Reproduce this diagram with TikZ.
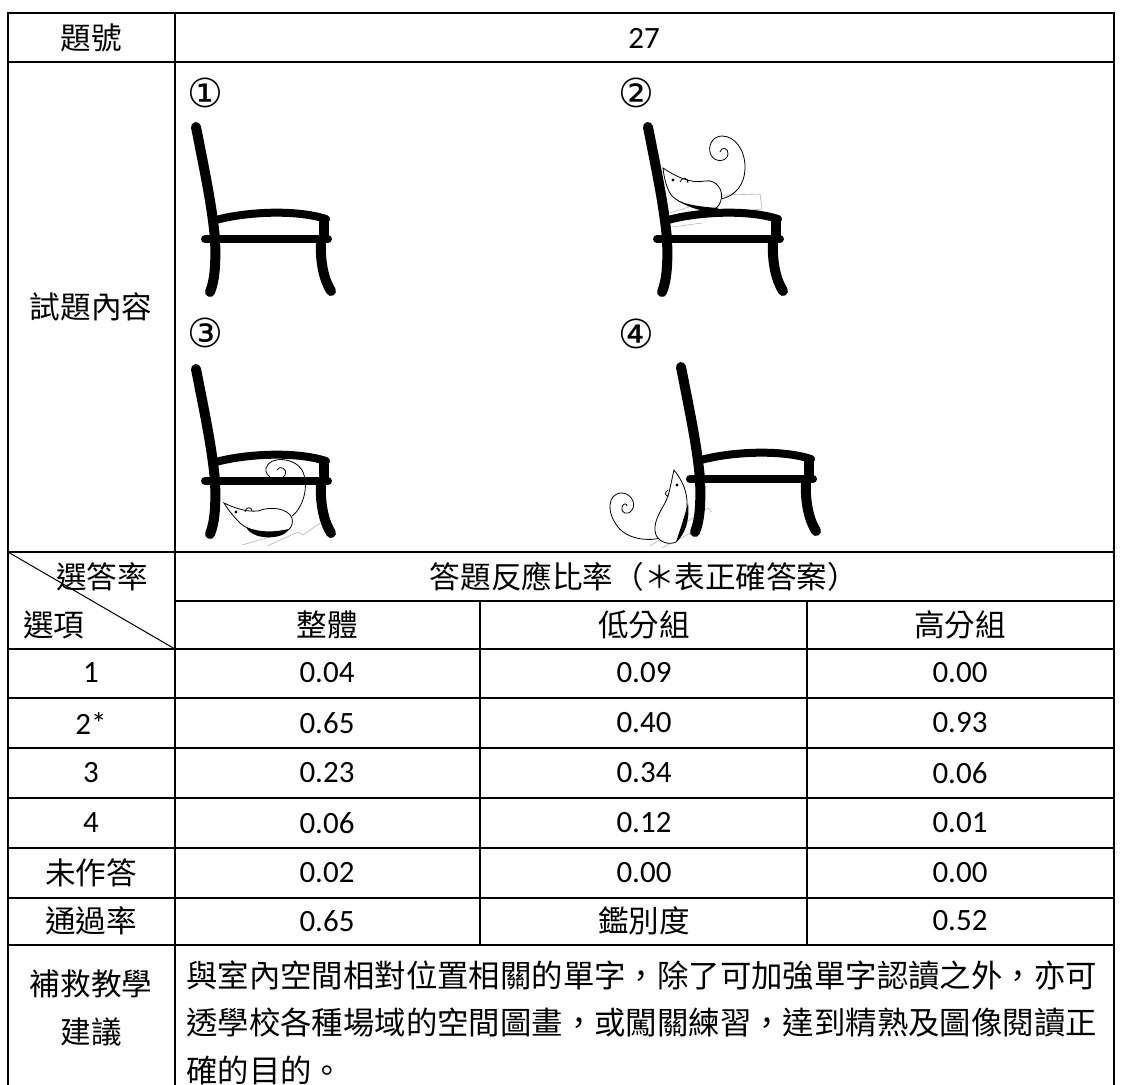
\documentclass[tikz,border=0pt]{standalone}
\usepackage{fontspec}
\setmainfont{Carlito}
\newfontfamily\cjk{Noto Sans CJK TC}
\newfontfamily\circfont{DejaVu Sans}

\newcommand{\chairat}[2]{
  \begin{scope}[shift={(#1,#2)}]
    \draw[chairleg] (196,127) .. controls (204,168) and (212,205) .. (215,239) .. controls (216,262) and (215,280) .. (210,292);
    \draw[chairleg] (321,242) .. controls (320,262) and (324,280) .. (331,291);
    \draw[chairbar] (216,220) .. controls (245,212) and (295,209) .. (326,219);
    \draw[chairbar,line width=5pt,line cap=butt] (324,217) -- (324,238);
    \draw[chairbar] (205,239) -- (328,239);
  \end{scope}
}

\begin{document}
\begin{tikzpicture}[x=0.5pt,y=-0.5pt]
  \tikzstyle{tableline}=[line width=1.2pt]
  \tikzstyle{chairleg}=[line width=5pt,line cap=round]
  \tikzstyle{chairbar}=[line width=4pt,line cap=round]
  \tikzstyle{mouse}=[line width=0.4pt,fill=white]
  \tikzstyle{faint}=[line width=0.3pt,black!30]
  \tikzstyle{zh}=[font=\cjk\fontsize{15.3pt}{18pt}\selectfont,inner sep=0pt]
  \tikzstyle{advice}=[font=\cjk\fontsize{15.7pt}{18pt}\selectfont,inner sep=0pt,anchor=west]
  \tikzstyle{digit}=[font=\fontsize{15.5pt}{18pt}\selectfont,inner sep=0pt]
  \tikzstyle{circ}=[font=\circfont\fontsize{20pt}{22pt}\selectfont,inner sep=0pt]
  \useasboundingbox (0,0) rectangle (1121,1084);

  \draw[tableline] (8,1090) -- (8,13) -- (1114,13) -- (1114,1090);
  \draw[tableline] (175,13) -- (175,1090);
  \draw[tableline] (8,62) -- (1114,62);
  \draw[tableline] (8,552) -- (1114,552);
  \draw[tableline] (175,601) -- (1114,601);
  \draw[tableline] (8,649) -- (1114,649);
  \draw[tableline] (8,698) -- (1114,698);
  \draw[tableline] (8,748) -- (1114,748);
  \draw[tableline] (8,798) -- (1114,798);
  \draw[tableline] (8,848) -- (1114,848);
  \draw[tableline] (8,898) -- (1114,898);
  \draw[tableline] (8,945) -- (1114,945);
  \draw[tableline] (480,601) -- (480,945);
  \draw[tableline] (807,601) -- (807,945);
  \draw[line width=0.5pt] (8,552) -- (175,649);

  \node[zh] (q) at (91,38) {題號};
  \node[digit] (qn) at (644,38) {27};
  \node[zh] (c) at (91,307) {試題內容};
  \node[circ] (o1) at (205,93) {①};
  \node[circ] (o2) at (636,93) {②};
  \node[circ] (o3) at (205,333) {③};
  \node[circ] (o4) at (636,334) {④};

  \draw[faint] (670,213) -- (726,195) -- (760,194) -- (762,209) -- (738,212);
  \draw[faint] (672,227) -- (702,223);
  \draw[faint] (242,545) -- (270,537);
  \draw[faint] (267,546) -- (298,532) -- (303,535) -- (320,523);
  \draw[faint] (650,546) -- (708,508) -- (712,512);
  \draw[faint] (662,548) -- (700,528);

  \draw[line width=0.4pt] (292,516) .. controls (303,508) and (310,485) .. (302,470) .. controls (295,458) and (270,455) .. (266,468) .. controls (264,478) and (280,484) .. (285,475) .. controls (288,468) and (279,465) .. (277,470);

  \chairat{0}{0}
  \chairat{452}{0}
  \chairat{0}{242}
  \chairat{485}{240}

  \draw[line width=0.4pt] (721,199) .. controls (735,196) and (745,185) .. (745,167) .. controls (745,150) and (735,136) .. (722,136) .. controls (712,136) and (707,147) .. (711,155) .. controls (715,163) and (727,162) .. (728,154) .. controls (729,148) and (721,146) .. (720,152);
  \draw[mouse] (663,168) .. controls (675,176) and (690,184) .. (705,181) .. controls (716,179) and (724,190) .. (721,200) .. controls (719,207) and (716,209) .. (712,209) .. controls (695,208) and (680,204) .. (672,196) .. controls (667,190) and (664,178) .. cycle;
  \fill (678,201) .. controls (692,206) and (705,207) .. (718,208) -- (716,212) .. controls (703,212) and (690,208) .. cycle;
  \draw[line width=0.4pt] (680,182) .. controls (681,177) and (689,177) .. (688,183);
  \fill (673,180) circle (0.8pt);

  \draw[mouse] (224,503) .. controls (235,508) and (245,512) .. (258,511) .. controls (270,506) and (288,508) .. (292,518) .. controls (294,527) and (288,532) .. (280,533) .. controls (265,534) and (250,532) .. (240,523) .. controls (233,516) and (227,508) .. cycle;
  \fill (246,527) .. controls (260,533) and (275,532) .. (289,529) .. controls (285,537) and (270,539) .. (258,536) .. controls (252,534) and (248,531) .. cycle;
  \draw[line width=0.4pt] (245,512) .. controls (245,507) and (252,506) .. (252,511);
  \fill (236,512) circle (0.8pt);

  \draw[line width=0.4pt] (660,538) .. controls (650,541) and (628,540) .. (618,527) .. controls (606,512) and (608,495) .. (620,493) .. controls (630,492) and (637,503) .. (632,510) .. controls (628,516) and (620,513) .. (622,507) .. controls (623,503) and (627,503) .. (627,506);
  \draw[mouse] (674,470) .. controls (682,480) and (688,492) .. (687,507) .. controls (686,522) and (682,536) .. (676,542) .. controls (670,545) and (660,543) .. (656,535) .. controls (652,524) and (660,512) .. (665,503) .. controls (670,493) and (671,482) .. cycle;
  \fill (688,503) .. controls (690,520) and (685,535) .. (676,542) .. controls (680,530) and (685,515) .. cycle;
  \draw[line width=0.4pt] (668,490) .. controls (664,492) and (665,497) .. (669,496);
  \fill (677,485) circle (0.8pt);

  \node[zh] (r) at (644,577) {答題反應比率（＊表正確答案）};
  \node[zh] (xa) at (102,577) {選答率};
  \node[zh] (xb) at (54,625) {選項};
  \node[zh] (ga) at (327,625) {整體};
  \node[zh] (gb) at (644,625) {低分組};
  \node[zh] (gc) at (960,625) {高分組};

  \node[digit] (a1) at (91,673) {1};
  \node[digit] (b1) at (327,673) {0.04};
  \node[digit] (c1) at (644,673) {0.09};
  \node[digit] (d1) at (960,673) {0.00};
  \node[digit] (a2) at (91,723) {2*};
  \node[digit] (b2) at (327,723) {0.65};
  \node[digit] (c2) at (644,723) {0.40};
  \node[digit] (d2) at (960,723) {0.93};
  \node[digit] (a3) at (91,773) {3};
  \node[digit] (b3) at (327,773) {0.23};
  \node[digit] (c3) at (644,773) {0.34};
  \node[digit] (d3) at (960,773) {0.06};
  \node[digit] (a4) at (91,823) {4};
  \node[digit] (b4) at (327,823) {0.06};
  \node[digit] (c4) at (644,823) {0.12};
  \node[digit] (d4) at (960,823) {0.01};
  \node[zh] (a5) at (91,873) {未作答};
  \node[digit] (b5) at (327,873) {0.02};
  \node[digit] (c5) at (644,873) {0.00};
  \node[digit] (d5) at (960,873) {0.00};
  \node[zh] (a6) at (91,921) {通過率};
  \node[digit] (b6) at (327,921) {0.65};
  \node[zh] (c6) at (644,921) {鑑別度};
  \node[digit] (d6) at (960,921) {0.52};

  \node[zh] (h1) at (91,984) {補救教學};
  \node[zh] (h2) at (91,1032) {建議};
  \node[advice] (s1) at (186,975) {與室內空間相對位置相關的單字，除了可加強單字認讀之外，亦可};
  \node[advice] (s2) at (186,1023) {透學校各種場域的空間圖畫，或闖關練習，達到精熟及圖像閱讀正};
  \node[advice] (s3) at (186,1070) {確的目的。};
\end{tikzpicture}
\end{document}
